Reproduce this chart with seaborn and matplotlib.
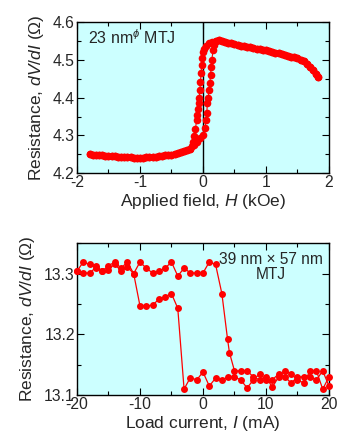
import numpy as np
import pandas as pd
import matplotlib
matplotlib.use("Agg")
import matplotlib.pyplot as plt
from matplotlib.ticker import MultipleLocator
import seaborn as sns

# --- top panel: field sweep (kOe, ohm) ---
# saturated high-resistance part, shared by both sweeps
h_high = [0.20, 0.25, 0.30, 0.35, 0.40, 0.45, 0.50, 0.55, 0.60, 0.65, 0.70, 0.75,
          0.80, 0.85, 0.90, 0.95, 1.00, 1.05, 1.10, 1.15, 1.20, 1.25, 1.30, 1.35,
          1.40, 1.45, 1.50, 1.55, 1.60, 1.65, 1.70, 1.75, 1.80, 1.83]
r_high = [4.550, 4.552, 4.550, 4.548, 4.546, 4.544, 4.542, 4.540, 4.538, 4.537, 4.535, 4.533,
          4.532, 4.530, 4.528, 4.527, 4.525, 4.523, 4.521, 4.519, 4.517, 4.515, 4.513, 4.511,
          4.509, 4.507, 4.504, 4.500, 4.496, 4.490, 4.482, 4.473, 4.462, 4.456]
# saturated low-resistance part
h_low = [-1.80, -1.75, -1.70, -1.65, -1.60, -1.55, -1.50, -1.45, -1.40, -1.35, -1.30,
         -1.25, -1.20, -1.15, -1.10, -1.05, -1.00, -0.95, -0.90, -0.85, -0.80, -0.75,
         -0.70, -0.65, -0.60, -0.55, -0.50, -0.45, -0.40, -0.35, -0.30, -0.25, -0.20]
r_low = [4.250, 4.248, 4.248, 4.247, 4.247, 4.246, 4.246, 4.246, 4.245, 4.244, 4.243,
         4.243, 4.242, 4.242, 4.241, 4.241, 4.241, 4.241, 4.242, 4.242, 4.243, 4.244,
         4.245, 4.246, 4.247, 4.248, 4.249, 4.251, 4.253, 4.255, 4.258, 4.261, 4.265]
# switching on the way down (H decreasing)
h_sw_down = [0.15, 0.10, 0.05, 0.02, 0.00, -0.01, -0.02, -0.03, -0.04, -0.05, -0.06,
             -0.07, -0.08, -0.09, -0.10, -0.12, -0.14, -0.16, -0.18]
r_sw_down = [4.548, 4.545, 4.537, 4.530, 4.521, 4.505, 4.487, 4.465, 4.442, 4.420, 4.400,
             4.385, 4.370, 4.355, 4.340, 4.318, 4.298, 4.282, 4.272]
# switching on the way up (H increasing)
h_sw_up = [-0.15, -0.10, -0.05, 0.00, 0.03, 0.05, 0.06, 0.07, 0.08, 0.10, 0.11,
           0.12, 0.13, 0.14, 0.16, 0.18]
r_sw_up = [4.275, 4.283, 4.292, 4.302, 4.320, 4.340, 4.360, 4.385, 4.400, 4.420, 4.440,
           4.460, 4.480, 4.500, 4.525, 4.540]

# --- bottom panel: current sweep (mA, ohm) ---
i_up = [-20, -19, -18, -17, -16, -15, -14, -13, -12, -11, -10, -9, -8, -7, -6, -5, -4,
        -3, -2, -1, 0, 1, 2, 3, 3.9, 4.2, 5, 6, 7, 8, 9, 10, 11, 12, 13, 14, 15, 16,
        17, 18, 19, 20]
r_up = [13.304, 13.319, 13.315, 13.313, 13.304, 13.313, 13.319, 13.309, 13.319, 13.300,
        13.319, 13.309, 13.301, 13.304, 13.309, 13.319, 13.296, 13.309, 13.301, 13.301,
        13.301, 13.319, 13.315, 13.267, 13.192, 13.170, 13.140, 13.140, 13.140, 13.130,
        13.125, 13.130, 13.113, 13.130, 13.140, 13.135, 13.125, 13.120, 13.140, 13.140,
        13.110, 13.130]
i_down = [20, 19, 18, 17, 16, 15, 14, 13, 12, 11, 10, 9, 8, 7, 6, 5, 4, 3, 2, 1, 0,
          -1, -2, -3, -4, -5, -6, -7, -8, -9, -10, -11, -12, -13, -14, -15, -16, -17,
          -18, -19, -20]
r_down = [13.115, 13.140, 13.125, 13.130, 13.130, 13.130, 13.120, 13.130, 13.135, 13.125,
          13.125, 13.135, 13.125, 13.112, 13.125, 13.130, 13.130, 13.125, 13.128, 13.115,
          13.138, 13.125, 13.129, 13.110, 13.243, 13.267, 13.262, 13.258, 13.248, 13.247,
          13.247, 13.300, 13.311, 13.304, 13.316, 13.306, 13.304, 13.310, 13.301, 13.301,
          13.304]

RED = "#ff0000"
BG = "#ccffff"

sns.set_style("ticks")
plt.rcParams["font.family"] = ["Liberation Sans", "DejaVu Sans"]
plt.rcParams["mathtext.fontset"] = "custom"
plt.rcParams["mathtext.rm"] = "Liberation Sans"
plt.rcParams["mathtext.it"] = "Liberation Sans:italic"
plt.rcParams["axes.unicode_minus"] = False

fig = plt.figure(figsize=(3.42, 4.43), dpi=100)
ax1 = fig.add_axes([0.225, 0.609, 0.737, 0.341])
ax2 = fig.add_axes([0.225, 0.108, 0.737, 0.343])

down_df = pd.DataFrame({
    "H": h_high[::-1] + h_sw_down + h_low[::-1],
    "R": r_high[::-1] + r_sw_down + r_low[::-1],
})
up_df = pd.DataFrame({
    "H": h_low + h_sw_up + h_high,
    "R": r_low + r_sw_up + r_high,
})

ax1.axvline(0, color="black", lw=1.0, zorder=1)
for d in (down_df, up_df):
    sns.lineplot(data=d, x="H", y="R", sort=False, estimator=None, ax=ax1,
                 color=RED, lw=0.8, marker="o", markersize=5.5,
                 markeredgewidth=0, zorder=3)

cur_up = pd.DataFrame({"I": i_up, "R": r_up})
cur_down = pd.DataFrame({"I": i_down, "R": r_down})
for d in (cur_up, cur_down):
    sns.lineplot(data=d, x="I", y="R", sort=False, estimator=None, ax=ax2,
                 color=RED, lw=0.9, marker="o", markersize=5.0,
                 markeredgewidth=0, zorder=3, clip_on=False)

ylab = r"Resistance, $\mathit{dV/dI}$ ($\mathit{Ω}$)"

ax1.set_xlim(-2, 2)
ax1.set_ylim(4.2, 4.6)
ax1.xaxis.set_major_locator(MultipleLocator(1))
ax1.xaxis.set_minor_locator(MultipleLocator(0.5))
ax1.yaxis.set_major_locator(MultipleLocator(0.1))
ax1.yaxis.set_minor_locator(MultipleLocator(0.05))
ax1.set_xlabel(r"Applied field, $\mathit{H}$ (kOe)", fontsize=12.5, labelpad=1)
ax1.set_ylabel(ylab, fontsize=12.5, labelpad=5)
ax1.text(-1.83, 4.56, r"23 nm$^{ϕ}$ MTJ", fontsize=11.5, va="center", ha="left")

ax2.set_xlim(-20, 20)
ax2.set_ylim(13.1, 13.35)
ax2.xaxis.set_major_locator(MultipleLocator(10))
ax2.xaxis.set_minor_locator(MultipleLocator(5))
ax2.yaxis.set_major_locator(MultipleLocator(0.1))
ax2.yaxis.set_minor_locator(MultipleLocator(0.05))
ax2.set_xlabel(r"Load current, $\mathit{I}$ (mA)", fontsize=12.5, labelpad=1)
ax2.set_ylabel(ylab, fontsize=12.5, labelpad=5)
ax2.text(10.8, 13.311, "39 nm × 57 nm\nMTJ", fontsize=11.2, va="center",
         ha="center", linespacing=1.05, zorder=5)

for ax in (ax1, ax2):
    ax.set_facecolor(BG)
    ax.tick_params(which="both", direction="in", top=True, right=True,
                   labelsize=11.3, color="black", pad=1.5)
    ax.tick_params(which="major", length=5, width=0.8)
    ax.tick_params(which="minor", length=3, width=0.8)
    for s in ax.spines.values():
        s.set_linewidth(1.0)
        s.set_color("black")

fig.savefig("out.png", dpi=100)
